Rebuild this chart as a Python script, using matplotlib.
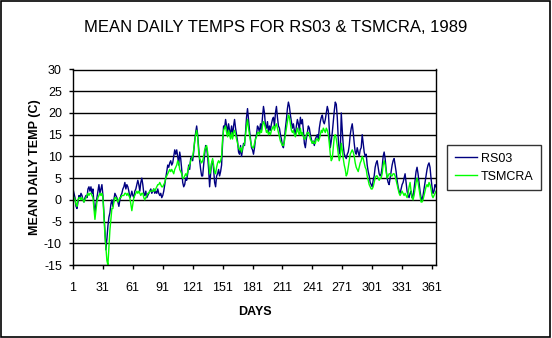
import numpy as np
import matplotlib.pyplot as plt
from matplotlib.patches import Rectangle

plt.rcParams['font.family'] = ['Liberation Sans', 'DejaVu Sans']
plt.rcParams['axes.unicode_minus'] = False

# --- Data (one value per day) ---
rs03 = [
    2.5, 1.5, 0.5, -1.5, -2, -0.5, 1, 0.5, 1.5, 1,
    0, -0.5, 0.5, 1, 0.5, 2.5, 3, 2, 3, 1.5,
    2.5, -1, -3, -1, 0.5, 2, 3.5, 1.5, 2.5, 3.5,
    1, -3, -7, -11.5, -9, -6, -4, -3, -1, 0,
    -1.5, 0, 1.5, 1, 0.5, -0.5, -1.5, 0, 1, 1.5,
    2.5, 3, 4, 2.5, 3.5, 3, 2, 0.5, 1, 2,
    1, 0.5, 2, 2.5, 3.5, 4.5, 3.5, 2, 4, 5,
    3.5, 1.5, 1, 2, 0.5, 1, 1.5, 2, 2.5, 1.5,
    2, 2.5, 1.5, 2, 1.5, 2.5, 1.5, 1, 1.5, 0.5,
    1, 2, 3.5, 5, 6.5, 8, 7.5, 8.5, 9, 8,
    8.5, 10, 11.5, 10.5, 11.5, 10, 8, 11, 9.5, 7,
    4, 3, 3.5, 5, 4.5, 6, 8, 7, 9.5, 10,
    9, 11, 13.5, 15.5, 17, 15, 12, 9, 7, 5.5,
    5.5, 8, 10.5, 12.5, 12, 10, 7, 3, 6, 8.5,
    9, 7, 4, 3, 5.5, 6, 7, 5.5, 6.5, 8,
    13, 17, 16.5, 18.5, 17, 15.5, 17.5, 16, 15, 17,
    14.5, 17, 18.5, 16.5, 15, 13.5, 11, 10.5, 12.5, 10,
    11.5, 13, 12.5, 15.5, 19, 21, 18.5, 16, 14, 12,
    11.5, 10.5, 12, 14, 15, 17, 16.5, 15.5, 17.5, 16,
    19, 21.5, 20, 17, 16.5, 18, 15.5, 17, 16, 17.5,
    18.5, 19, 17, 20, 21.5, 19, 17, 16.5, 15, 14,
    12.5, 12, 14, 16.5, 18.5, 21, 22.5, 21.5, 19.5, 18,
    16.5, 17.5, 16, 15, 17, 18.5, 17.5, 16, 19, 17.5,
    18.5, 16, 13, 12, 14, 15.5, 17, 16.5, 15, 14,
    13, 13.5, 12.5, 14, 14.5, 15, 14, 16.5, 18, 19,
    19.5, 18, 17.5, 18.5, 20, 21.5, 20.5, 16, 12, 13.5,
    15.5, 18, 20.5, 22.5, 22, 19, 14, 11, 10.5, 20,
    16, 12.5, 10.5, 10, 9.5, 10.5, 11, 12.5, 15, 16.5,
    17.5, 15.5, 13, 11, 10.5, 12, 11, 10, 11.5, 12,
    15, 13, 11, 10, 10.5, 8, 6.5, 5.5, 4, 3.5,
    3, 4.5, 5.5, 7.5, 8.5, 9, 7.5, 6, 5.5, 6,
    7.5, 10, 11, 9.5, 7, 5, 4, 3.5, 5, 6.5,
    8, 9, 9.5, 8, 6.5, 4.5, 3, 2, 1.5, 2.5,
    3.5, 4, 5, 6, 4, 2, 1, 0.5, 1.5, 2,
    0.5, 1, 2.5, 4.5, 6.5, 7.5, 6, 4, 2, 0.5,
    0, 1, 2.5, 4, 5.5, 7, 8, 8.5, 7.5, 5,
    3, 1.5, 2, 3.5, 3,
]

tsmcra = [
    1, 0.5, 0, -1, -1.5, 0, 0.5, 0.5, 0, 0.5,
    0, -0.5, 0, 0.5, 1, 1.5, 1, 1.5, 1.5, 1,
    0.5, -2, -4.5, -2.5, -0.5, 0.5, 1, 1.5, 1, 1.5,
    0.5, -4, -8, -11, -14, -15, -11, -7, -4.5, -2,
    -2, -0.5, 0.5, 0.5, 0, -0.5, 0, 0.5, 0.5, 1,
    1, 1, 1.5, 1.5, 1, 1.5, 1, 0.5, -1, -2.5,
    -1, 0.5, 1, 1.5, 2, 1.5, 2, 1.5, 1, 1.5,
    1.5, 0.5, 0, 0.5, 1, 1.5, 1.5, 2, 2, 2,
    2, 2.5, 2, 2.5, 3, 3.5, 3.5, 4, 3.5, 3,
    3, 3.5, 4, 5, 5.5, 6, 6.5, 7, 6.5, 7,
    6.5, 6, 7, 7.5, 8, 9, 8.5, 7, 6.5, 6,
    5, 5, 5.5, 6, 5.5, 6.5, 7.5, 8, 9, 9.5,
    10, 11.5, 13.5, 15, 16, 14.5, 11, 9.5, 9, 8.5,
    9, 10, 11.5, 12, 12.5, 11, 9, 6, 7, 8.5,
    9.5, 8, 6.5, 6, 7.5, 8.5, 9, 8.5, 9, 10,
    14, 16, 16.5, 17, 15.5, 14.5, 16, 15, 14, 15.5,
    14, 15.5, 16, 15, 14, 13, 12, 11.5, 12, 11,
    12, 12.5, 13, 15, 17, 18.5, 16.5, 15, 13.5, 12.5,
    12, 12, 13, 14, 14.5, 15.5, 15.5, 15, 16, 15.5,
    17, 18, 17.5, 16.5, 15.5, 16, 15, 15.5, 15, 16,
    16.5, 17, 16, 17, 17.5, 16.5, 15.5, 14.5, 13.5, 13,
    12.5, 12.5, 13.5, 15, 16.5, 18, 19.5, 19, 17.5, 16,
    15.5, 16, 15, 14.5, 15.5, 16.5, 15.5, 15, 16.5, 15,
    15.5, 14.5, 14, 14, 15, 15.5, 15.5, 15, 14, 13.5,
    13, 13.5, 13, 13, 14, 14, 13.5, 14, 15, 16,
    15.5, 16.5, 16, 15.5, 16.5, 16, 15, 13, 10.5, 9,
    9.5, 12, 14.5, 15, 14, 12.5, 10.5, 9, 10, 13,
    11.5, 9.5, 8, 7, 5.5, 6, 7.5, 9, 10.5, 11,
    11.5, 11, 10, 8.5, 7.5, 7, 6.5, 7.5, 8.5, 9,
    10, 9.5, 8.5, 7.5, 7, 5.5, 4.5, 3.5, 3, 2.5,
    2.5, 3, 4, 5, 5.5, 5.5, 5, 4.5, 5, 5,
    6, 8, 9, 8, 6.5, 5, 5.5, 6, 6, 5.5,
    5.5, 6, 6, 5.5, 4.5, 3.5, 2.5, 1.5, 1, 1.5,
    2, 1.5, 1, 1.5, 1, 0.5, 1.5, 3, 4, 2,
    0.5, 0, 1, 2.5, 4, 5, 4, 2.5, 1, -0.5,
    -0.5, 0, 1, 2, 3, 3.5, 3, 4, 3.5, 2.5,
    1, 0.5, 1, 1.5, 2,
]

days = np.arange(1, len(rs03) + 1)
x_ticks = list(range(1, 366, 30))
y_ticks = list(range(-15, 31, 5))

W, H = 552, 338
fig = plt.figure(figsize=(W / 100, H / 100), dpi=100)
ax = fig.add_axes([73 / W, 1 - 265 / H, 363 / W, 195.5 / H])

ax.plot(days, rs03, color='#000080', lw=1, label='RS03')
ax.plot(days, tsmcra, color='#00FF00', lw=1, label='TSMCRA')

ax.set_xlim(1, 365)
ax.set_ylim(-15, 30)
ax.set_xticks(x_ticks)
ax.set_yticks(y_ticks)
ax.grid(axis='y', color='black', lw=1)
ax.set_axisbelow(True)
for s in ax.spines.values():
    s.set_color('black')
    s.set_linewidth(1)
ax.tick_params(axis='y', direction='out', length=3, width=1, pad=5, labelsize=9)
ax.tick_params(axis='x', direction='out', length=3, width=1, pad=9, labelsize=9)

ax.set_ylabel('MEAN DAILY TEMP (C)', fontsize=9, fontweight='bold', labelpad=2)
fig.text(254.5 / W, 1 - 312 / H, 'DAYS', fontsize=9, fontweight='bold',
         ha='center', va='center')
fig.text(0.5, 1 - 27.5 / H, 'MEAN DAILY TEMPS FOR RS03 & TSMCRA, 1989',
         fontsize=12, ha='center', va='center')

leg = fig.legend(loc='upper left', bbox_to_anchor=(447 / W, 1 - 145 / H),
                 fontsize=9, frameon=True, fancybox=False, handlelength=1.8,
                 borderpad=0.6, labelspacing=0.5, handletextpad=0.3,
                 borderaxespad=0)
leg.get_frame().set_edgecolor('black')
leg.get_frame().set_linewidth(1)

# outer chart border
fig.patches.append(Rectangle((0.5 / W, 1.5 / H), 549 / W, 336 / H,
                             transform=fig.transFigure, fill=False,
                             edgecolor='black', lw=1.2))

fig.savefig('out.png', dpi=100)
